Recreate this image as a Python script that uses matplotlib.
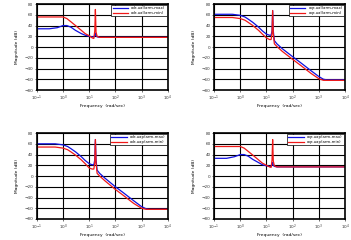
import matplotlib
matplotlib.use('Agg')
from matplotlib import pyplot as plt

# frequency points (rad/sec)
w_flat = [0.1, 0.3, 0.6, 1.0, 1.4, 2.0, 3.0, 5.0, 7.0, 10, 13, 15, 16.3, 17.2, 18.2, 20, 25, 40, 1e4]
w_roll = [0.1, 0.5, 1.0, 1.5, 2, 3, 5, 7, 10, 13, 15, 16.3, 17.2, 18.2, 20, 25, 40, 100, 200, 500, 1000, 1500, 2000, 1e4]

# top left: edr-ual
edr_ual_max = [34, 34, 36, 40, 40, 37, 31, 25, 22, 20, 19, 19, 22, 26, 21, 19, 18, 18, 18]
edr_ual_min = [56, 56, 56, 56, 53, 47, 40, 31, 25, 21, 17, 16, 30, 70, 28, 20, 18, 18, 18]

# top right: eqr-ual
eqr_ual_max = [61, 61, 59, 56, 52, 46, 37, 30, 24, 22, 22, 30, 68, 30, 12, 6, -3, -18, -29, -44, -55, -60, -61, -61]
eqr_ual_min = [55, 55, 53, 50, 46, 40, 31, 24, 17, 14, 14, 25, 68, 25, 6, 1, -8, -23, -34, -49, -59, -62, -62, -62]

# bottom left: edr-uap
edr_uap_max = [60, 60, 58, 55, 51, 45, 36, 29, 23, 21, 21, 30, 68, 30, 11, 5, -4, -20, -31, -46, -57, -61, -62, -62]
edr_uap_min = [54, 54, 52, 49, 45, 39, 30, 23, 15, 13, 13, 25, 68, 25, 5, 0, -9, -25, -36, -51, -60, -62, -62, -62]

# bottom right: eqr-uap
eqr_uap_max = [33, 33, 36, 40, 40, 37, 31, 25, 21, 19, 18, 18, 21, 25, 20, 18, 17, 17, 17]
eqr_uap_min = [55, 55, 55, 55, 52, 46, 39, 30, 24, 20, 17, 16, 30, 68, 28, 19, 17, 17, 17]

panels = [
    ([0.105, 0.625, 0.373, 0.358], w_flat, edr_ual_max, edr_ual_min, 'edr-ual'),
    ([0.610, 0.625, 0.373, 0.358], w_roll, eqr_ual_max, eqr_ual_min, 'eqr-ual'),
    ([0.105, 0.0875, 0.373, 0.358], w_roll, edr_uap_max, edr_uap_min, 'edr-uap'),
    ([0.610, 0.0875, 0.373, 0.358], w_flat, eqr_uap_max, eqr_uap_min, 'eqr-uap'),
]

fig = plt.figure(figsize=(3.51, 2.4), dpi=100)

for pos, w, mx, mn, name in panels:
    ax = fig.add_axes(pos)
    ax.semilogx(w, mx, color='#1010e0', lw=0.9, label=name + '(arm-max)')
    ax.semilogx(w, mn, color='#f01818', lw=0.9, label=name + '(arm-min)')
    ax.set_xlim(0.1, 1e4)
    ax.set_ylim(-80, 80)
    ax.set_yticks(range(-80, 81, 20))
    ax.set_xticks([1e-1, 1e0, 1e1, 1e2, 1e3, 1e4])
    ax.minorticks_off()
    ax.grid(True, color='black', lw=0.8)
    ax.tick_params(labelsize=3, length=1.5, width=0.5, pad=1, colors='#333333')
    for s in ax.spines.values():
        s.set_linewidth(1.2)
    ax.set_xlabel('Frequency  (rad/sec)', fontsize=3.2, labelpad=1)
    ax.set_ylabel('Magnitude (dB)', fontsize=3.2, labelpad=4)
    leg = ax.legend(loc='upper right', fontsize=2.8, handlelength=4,
                    borderpad=0.3, labelspacing=0.2, fancybox=False,
                    framealpha=1, borderaxespad=0.3)
    leg.get_frame().set_edgecolor('black')
    leg.get_frame().set_linewidth(0.5)

plt.savefig('out.png', dpi=100)
